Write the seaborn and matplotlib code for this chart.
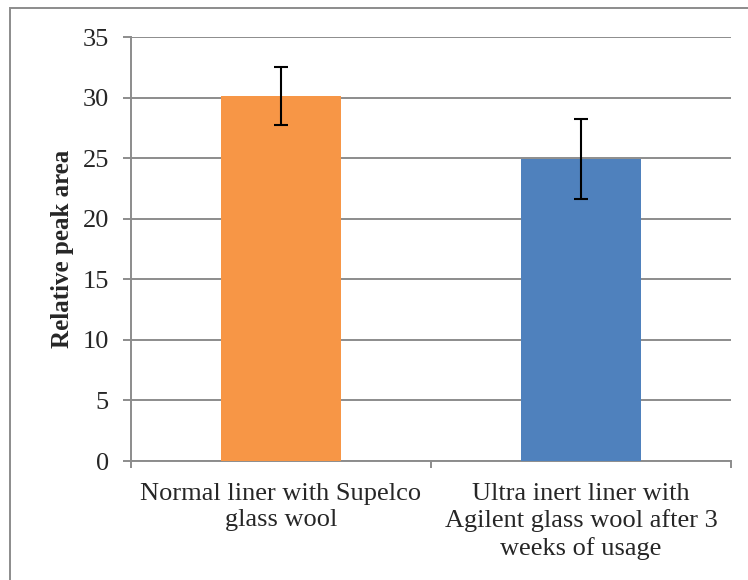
import numpy as np
import pandas as pd
import matplotlib.pyplot as plt
import seaborn as sns
from matplotlib.patches import Rectangle
from matplotlib.ticker import FixedLocator

categories = ["Normal liner with Supelco\nglass wool",
              "Ultra inert liner with\nAgilent glass wool after 3\nweeks of usage"]
peak_area = [30.1, 24.95]
peak_err = [2.4, 3.3]
colors = ["#F79646", "#4F81BD"]

sns.set_style("white")
plt.rcParams['font.family'] = ['Liberation Serif', 'DejaVu Serif']

df = pd.DataFrame({'liner': categories, 'area': peak_area})

fig = plt.figure(figsize=(7.48, 5.80), dpi=100)
ax = fig.add_axes([131 / 748, 119 / 580, 600 / 748, 424 / 580])

sns.barplot(data=df, x='liner', y='area', hue='liner', palette=colors,
            width=0.4, errorbar=None, legend=False, ax=ax, zorder=3,
            saturation=1, linewidth=0)
ax.errorbar(range(len(categories)), peak_area, yerr=peak_err, fmt='none',
            ecolor='black', elinewidth=1.5, capsize=4.7, capthick=1.5, zorder=4)

ax.set_xlim(-0.5, 1.5)
ax.set_ylim(0, 35)
ax.set_yticks(range(0, 36, 5))
ax.yaxis.grid(True, color='#8c8c8c', linewidth=1.4, zorder=0)
ax.set_axisbelow(True)

for s in ['top', 'right']:
    ax.spines[s].set_visible(False)
for s in ['left', 'bottom']:
    ax.spines[s].set_color('#8c8c8c')
    ax.spines[s].set_linewidth(1.4)

ax.tick_params(axis='y', which='major', left=True, length=6, width=1.4,
               color='#8c8c8c', labelsize=19, pad=10)
ax.tick_params(axis='x', which='major', bottom=False, labelsize=19, pad=12)
for lbl in ax.get_xticklabels():
    lbl.set_linespacing(1.27)
ax.xaxis.set_minor_locator(FixedLocator([-0.5, 0.5, 1.5]))
ax.tick_params(axis='x', which='minor', bottom=True, length=5, width=1.4,
               color='#8c8c8c')

ax.set_xlabel('')
ax.set_ylabel('Relative peak area', fontsize=18, fontweight='bold', labelpad=6)

fig.patches.append(Rectangle((10 / 748, -0.05), 1.0, (580 - 8) / 580 + 0.05,
                             transform=fig.transFigure, fill=False,
                             edgecolor='#8c8c8c', linewidth=1.4))

fig.savefig('out.png', dpi=100)
